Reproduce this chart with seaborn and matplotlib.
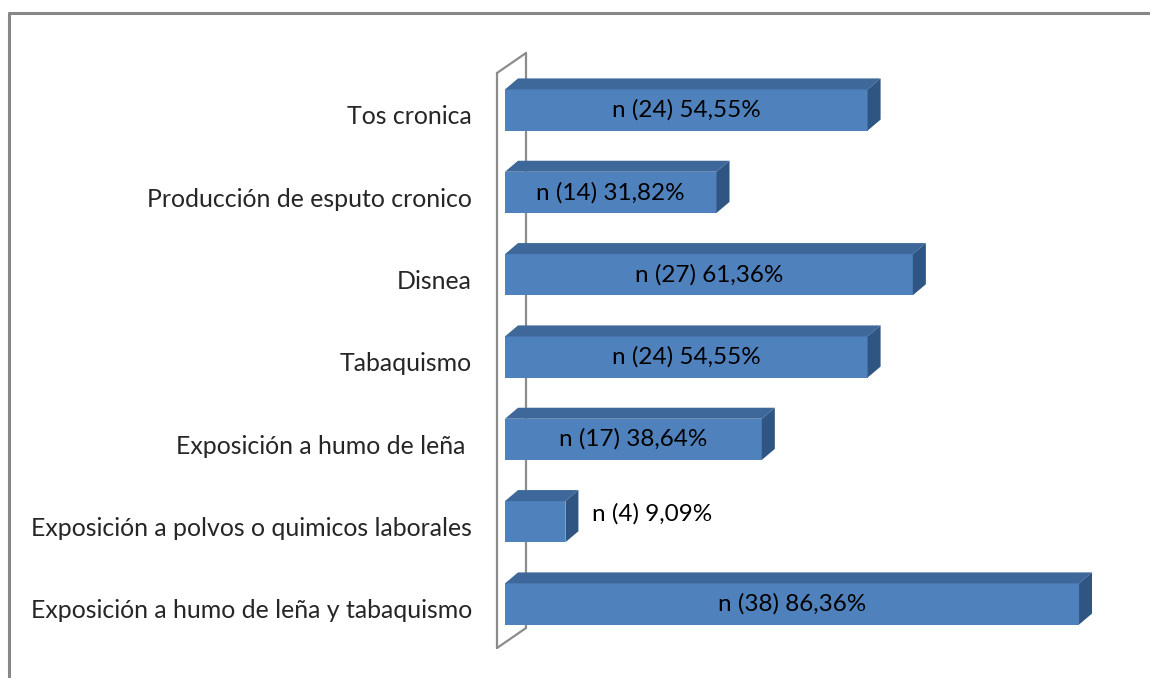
import numpy as np
import pandas as pd
import matplotlib
matplotlib.use("Agg")
import matplotlib.pyplot as plt
import matplotlib.transforms as mtransforms
from matplotlib.lines import Line2D
from matplotlib.patches import Polygon
import seaborn as sns

# data
categories = [
    "Tos cronica",
    "Producción de esputo cronico",
    "Disnea",
    "Tabaquismo",
    "Exposición a humo de leña ",
    "Exposición a polvos o quimicos laborales",
    "Exposición a humo de leña y tabaquismo",
]
counts = [24, 14, 27, 24, 17, 4, 38]
percents = [54.55, 31.82, 61.36, 54.55, 38.64, 9.09, 86.36]

df = pd.DataFrame({"categoria": categories, "n": counts, "pct": percents})
df["etiqueta"] = [
    ("n (%d) %.2f%%" % (c, p)).replace(".", ",") for c, p in zip(counts, percents)
]

W, H = 1150, 678
front = "#4F81BD"
top = "#3D6899"
side = "#2F5583"
wall = "#8C8C8C"
fs = 17.5

sns.set_style("white")
plt.rcParams["font.family"] = ["Lato", "DejaVu Sans"]

fig = plt.figure(figsize=(W / 100, H / 100), dpi=100)


def px(x, y):
    # pixel position (from top-left) to figure fraction
    return x / W, 1 - y / H


# outer chart border (top and left edges only visible)
for (x0, y0), (x1, y1) in [((9, 13), (W, 13)), ((9, 13), (9, H))]:
    a, b = px(x0, y0)
    c, d = px(x1, y1)
    fig.add_artist(Line2D([a, c], [b, d], color="#878787", lw=2.2,
                          transform=fig.transFigure, zorder=0))

# 3D back wall outline
wall_pts = [((497, 73), (526, 53)), ((497, 73), (497, 648)),
            ((497, 648), (526, 628)), ((526, 53), (526, 628))]
for (x0, y0), (x1, y1) in wall_pts:
    a, b = px(x0, y0)
    c, d = px(x1, y1)
    fig.add_artist(Line2D([a, c], [b, d], color=wall, lw=1.6,
                          transform=fig.transFigure, zorder=0))

# axes placed so 0% sits at x=505 px and categories every ~82.3 px
x0_px, xmax = 505, 90
px_per_unit = 6.647
ax_w = xmax * px_per_unit
y_top, y_bot = 50, 650
step, first = 82.33, 110
ax = fig.add_axes([x0_px / W, 1 - y_bot / H, ax_w / W, (y_bot - y_top) / H])
ax.set_zorder(1)
ax.patch.set_alpha(0)

sns.barplot(data=df, x="pct", y="categoria", orient="h", color=front,
            saturation=1, width=0.5, ax=ax, edgecolor="none")

ax.set_xlim(0, xmax)
ax.set_ylim((y_bot - first) / step, (y_top - first) / step)

# depth of the 3D bars
dx = 13 / px_per_unit
dy = 11 / step
hh = 0.25
for i, p in enumerate(percents):
    ax.add_patch(Polygon([(0, i - hh), (p, i - hh), (p + dx, i - hh - dy),
                          (dx, i - hh - dy)], closed=True, facecolor=top,
                         edgecolor="none", zorder=3))
    ax.add_patch(Polygon([(p, i - hh), (p + dx, i - hh - dy),
                          (p + dx, i + hh - dy), (p, i + hh)], closed=True,
                         facecolor=side, edgecolor="none", zorder=3))

# value labels
for i, (p, lab) in enumerate(zip(percents, df["etiqueta"])):
    if p < 20:
        ax.text(p + dx + 14 / px_per_unit, i - 0.1, lab, ha="left",
                va="center", fontsize=fs, color="black", zorder=5)
    else:
        ax.text(p / 2, i, lab, ha="center", va="center", fontsize=fs,
                color="black", zorder=5)

ax.set_xlabel("")
ax.set_ylabel("")
ax.set_xticks([])
ax.tick_params(axis="y", length=0, pad=23.8, labelsize=17.9)
shift = mtransforms.ScaledTranslation(0, -5 / 100, fig.dpi_scale_trans)
for lbl in ax.get_yticklabels():
    lbl.set_transform(lbl.get_transform() + shift)
for s in ax.spines.values():
    s.set_visible(False)

fig.savefig("out.png", dpi=100)
